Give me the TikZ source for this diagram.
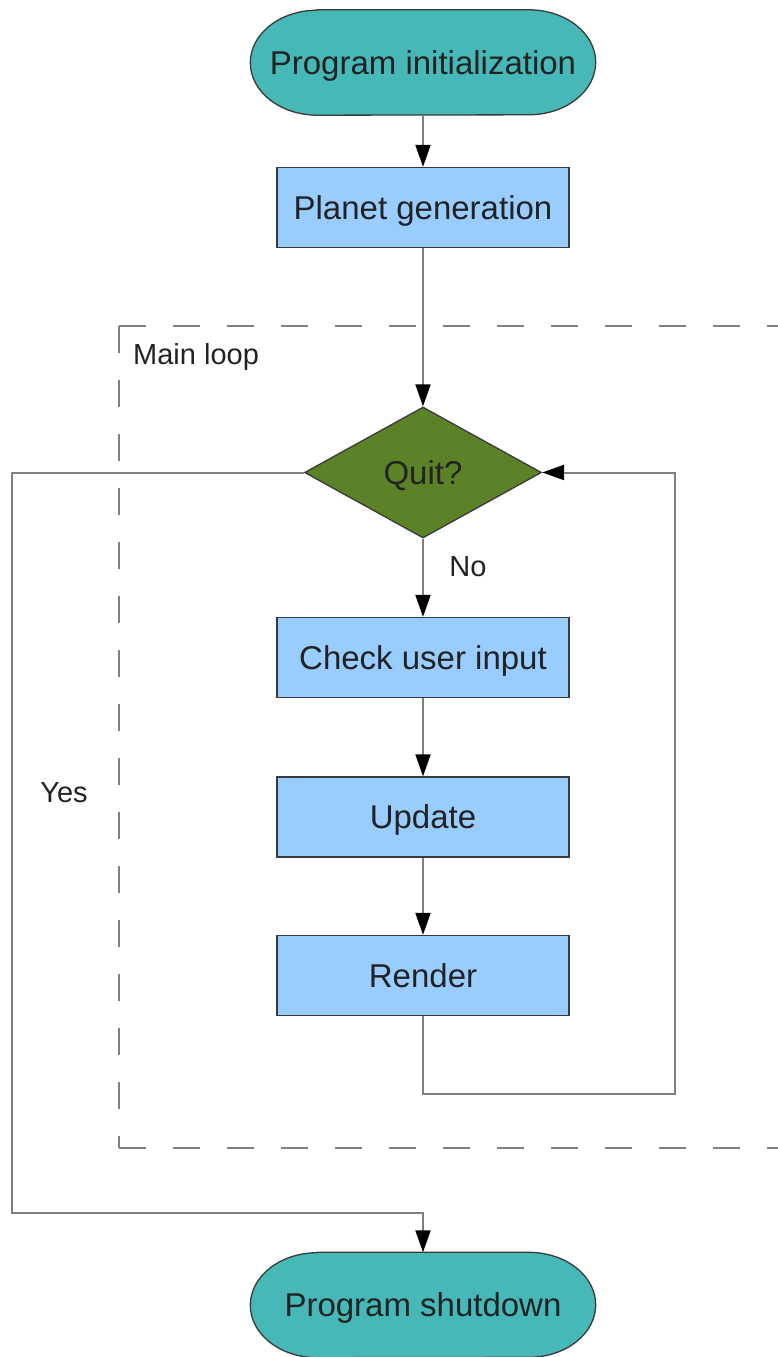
\documentclass[tikz,border=0pt]{standalone}
\usepackage{fontspec}
\setmainfont{Liberation Sans}
\usetikzlibrary{shapes.geometric,arrows.meta,backgrounds}
\definecolor{termteal}{HTML}{46B8B8}
\definecolor{boxblue}{HTML}{99CCFF}
\definecolor{decgreen}{HTML}{5B8226}
\definecolor{linegray}{HTML}{7F7F7F}
\definecolor{txt}{HTML}{222222}
\definecolor{edge}{HTML}{3A3A3A}
\begin{document}
\begin{tikzpicture}[x=1pt,y=-1pt,
  bigtext/.style={font=\fontsize{33}{40}\selectfont, text=txt,
    text height=23.6pt, text depth=0pt},
  smalltext/.style={font=\fontsize{29}{35}\selectfont, text=txt,
    text height=20.8pt, text depth=0pt, inner sep=0pt},
  stepbox/.style={rectangle, draw=edge, line width=1.3pt, fill=boxblue,
    minimum width=292pt, minimum height=80pt, inner sep=0pt, bigtext},
  terminal/.style={rectangle, draw=none, minimum width=345pt,
    minimum height=105pt, inner sep=0pt, bigtext},
  termshape/.style={draw=edge, line width=1.3pt, fill=termteal},
  decision/.style={diamond, draw=edge, line width=1.3pt, fill=decgreen,
    minimum width=237pt, minimum height=131pt, inner sep=0pt, bigtext},
  conn/.style={draw=linegray, line width=2pt,
    -{Triangle[length=22pt,width=15pt,color=black]}},
  loopframe/.style={draw=linegray, line width=2pt, dash pattern=on 27pt off 27pt},
]
\useasboundingbox (0,0) rectangle (777,1357);

% nodes
\node[terminal] (init) at (423,62.5) {Program initialization};
\node[stepbox] (planet) at (423,207.5) {Planet generation};
\node[decision] (quit) at (423,472.5) {Quit?};
\node[stepbox] (check) at (423,657.5) {Check user input};
\node[stepbox] (update) at (423,817) {Update};
\node[stepbox] (render) at (423,975.5) {Render};
\node[terminal] (shut) at (423,1305) {Program shutdown};

% terminal shapes (elliptic ends)
\begin{scope}[on background layer]
  \draw[termshape] ([xshift=67pt]init.north west) -- ([xshift=-67pt]init.north east)
    arc[start angle=90,end angle=-90,x radius=67pt,y radius=52.5pt]
    -- ([xshift=67pt]init.south west)
    arc[start angle=270,end angle=90,x radius=67pt,y radius=52.5pt] -- cycle;
  \draw[termshape] ([xshift=67pt]shut.north west) -- ([xshift=-67pt]shut.north east)
    arc[start angle=90,end angle=-90,x radius=67pt,y radius=52.5pt]
    -- ([xshift=67pt]shut.south west)
    arc[start angle=270,end angle=90,x radius=67pt,y radius=52.5pt] -- cycle;
\end{scope}

% dashed main loop frame
\coordinate (frameTL) at (119,326);
\coordinate (frameBL) at (119,1148);
\coordinate (frameTR) at (800,326);
\coordinate (frameBR) at (800,1148);
\draw[loopframe] (frameTL) -- (frameTR);
\draw[loopframe] (frameTL) -- (frameBL);
\draw[loopframe] (frameBL) -- (frameBR);

% labels
\node[smalltext, anchor=west] (mainloop) at (133,354) {Main loop};
\node[smalltext] (nolabel) at (468,566) {No};
\node[smalltext] (yeslabel) at (64,792) {Yes};

% connectors
\coordinate (loopR) at (675,1094);
\coordinate (yesL) at (12,1213);
\draw[conn] (init) -- (planet);
\draw[conn] (planet) -- (quit);
\draw[conn] (quit) -- (check);
\draw[conn] (check) -- (update);
\draw[conn] (update) -- (render);
\draw[conn] (render.south) |- (loopR) |- (quit.east);
\draw[conn] (quit.west) -| (yesL) -| (shut.north);
\end{tikzpicture}
\end{document}
